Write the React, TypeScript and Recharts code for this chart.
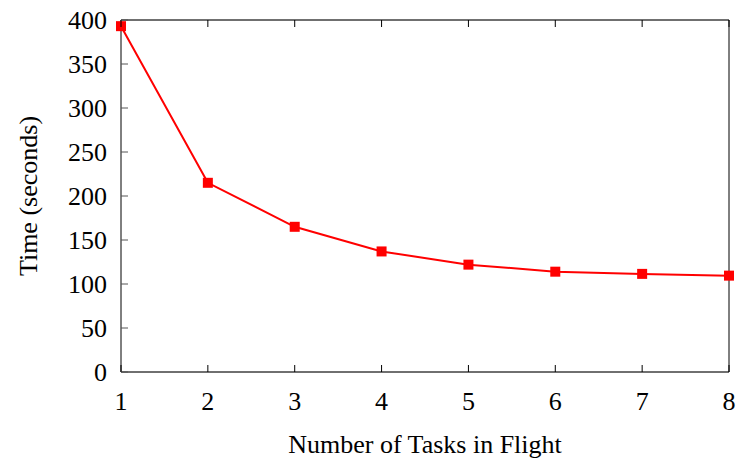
import React from 'react';
import { LineChart, Line, XAxis, YAxis, CartesianGrid, Label } from 'recharts';

const tasks = [1, 2, 3, 4, 5, 6, 7, 8];
const times = [393, 215, 165, 137, 122, 114, 111.5, 109.5];
const yTicks = [0, 50, 100, 150, 200, 250, 300, 350, 400];
const xTicks = [1, 2, 3, 4, 5, 6, 7, 8];

const data = tasks.map((t, i) => ({ tasks: t, time: times[i] }));

const FONT = '"Liberation Serif", "Times New Roman", serif';
const FS = 26;
const TICK_LEN = 7;

const BottomTick = (props: any) => {
  const { x, y, payload } = props;
  return (
    <g>
      <line x1={x} y1={y} x2={x} y2={y - TICK_LEN} stroke="#000" strokeWidth={1} />
      <text x={x} y={y + 38} textAnchor="middle" fontFamily={FONT} fontSize={FS} fill="#000">
        {payload.value}
      </text>
    </g>
  );
};

const TopTick = (props: any) => {
  const { x, y } = props;
  return <line x1={x} y1={y} x2={x} y2={y + TICK_LEN} stroke="#000" strokeWidth={1} />;
};

const LeftTick = (props: any) => {
  const { x, y, payload } = props;
  return (
    <g>
      <line x1={x} y1={y} x2={x + TICK_LEN} y2={y} stroke="#555" strokeWidth={1} />
      <text x={x - 14} y={y + 8.5} textAnchor="end" fontFamily={FONT} fontSize={FS} fill="#000">
        {payload.value}
      </text>
    </g>
  );
};

const RightTick = (props: any) => {
  const { x, y } = props;
  return <line x1={x} y1={y} x2={x - TICK_LEN} y2={y} stroke="#555" strokeWidth={1} />;
};

const Square = (props: any) => {
  const { cx, cy } = props;
  if (cx == null || cy == null) return null;
  return <rect x={cx - 5} y={cy - 5} width={10} height={10} fill="#ff0000" />;
};

export default function App() {
  return (
    <div style={{ position: 'absolute', left: 0, top: 0, width: 740, height: 463 }}>
      <LineChart
        width={740}
        height={463}
        data={data}
        margin={{ top: 19, right: 10, bottom: 90, left: 120 }}
      >
        <CartesianGrid horizontal vertical={false} stroke="#c0c0c0" strokeWidth={1} />
        <XAxis
          xAxisId="bottom"
          dataKey="tasks"
          type="number"
          domain={[1, 8]}
          ticks={xTicks}
          tickSize={0}
          tickMargin={0}
          tickLine={false}
          tick={<BottomTick />}
          stroke="#000"
          height={1}
          interval={0}
        >
          <Label
            value="Number of Tasks in Flight"
            position="bottom"
            offset={61.5}
            style={{ fontFamily: FONT, fontSize: FS, fill: '#000' }}
          />
        </XAxis>
        <XAxis
          xAxisId="top"
          orientation="top"
          dataKey="tasks"
          type="number"
          domain={[1, 8]}
          ticks={xTicks}
          tickSize={0}
          tickMargin={0}
          tickLine={false}
          tick={<TopTick />}
          stroke="#000"
          height={1}
          interval={0}
        />
        <YAxis
          yAxisId="left"
          type="number"
          domain={[0, 400]}
          ticks={yTicks}
          tickSize={0}
          tickMargin={0}
          tickLine={false}
          tick={<LeftTick />}
          stroke="#000"
          width={1}
          interval={0}
        >
          <Label
            value="Time (seconds)"
            angle={-90}
            position="left"
            offset={92}
            style={{ fontFamily: FONT, fontSize: FS, fill: '#000', textAnchor: 'middle' }}
          />
        </YAxis>
        <YAxis
          yAxisId="right"
          orientation="right"
          type="number"
          domain={[0, 400]}
          ticks={yTicks}
          tickSize={0}
          tickMargin={0}
          tickLine={false}
          tick={<RightTick />}
          stroke="#000"
          width={1}
          interval={0}
        />
        <Line
          xAxisId="bottom"
          yAxisId="left"
          type="linear"
          dataKey="time"
          stroke="#ff0000"
          strokeWidth={2}
          dot={<Square />}
          activeDot={false}
          isAnimationActive={false}
        />
      </LineChart>
    </div>
  );
}
